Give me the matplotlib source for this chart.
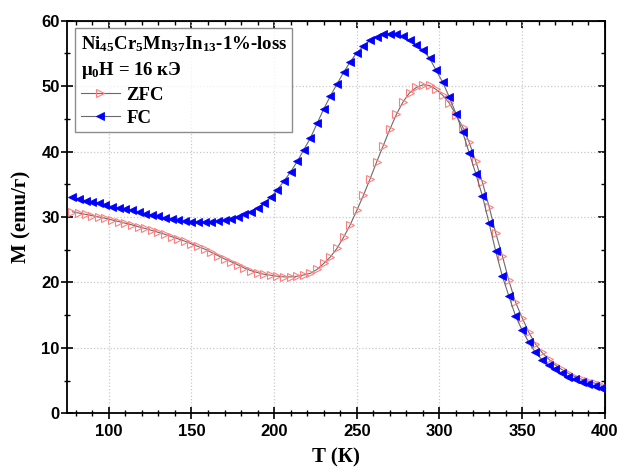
import matplotlib
matplotlib.use("Agg")
import matplotlib.pyplot as plt
from matplotlib.ticker import MultipleLocator
from matplotlib.font_manager import FontProperties

plt.rcParams['mathtext.fontset'] = 'custom'
plt.rcParams['mathtext.rm'] = 'Liberation Serif:bold'
plt.rcParams['mathtext.it'] = 'Liberation Serif:bold'
plt.rcParams['mathtext.bf'] = 'Liberation Serif:bold'

# ---- data ----
temperature = [78, 82, 86, 90, 94, 98, 102, 106, 110, 114, 118, 122, 126, 130, 134, 138,
               142, 146, 150, 154, 158, 162, 166, 170, 174, 178, 182, 186, 190, 194, 198,
               202, 206, 210, 214, 218, 222, 226, 230, 234, 238, 242, 246, 250, 254, 258,
               262, 266, 270, 274, 278, 282, 286, 290, 294, 298, 302, 306, 310, 314, 318,
               322, 326, 330, 334, 338, 342, 346, 350, 354, 358, 362, 366, 370, 374, 378,
               382, 386, 390, 394, 398]

m_zfc = [30.8, 30.6, 30.4, 30.2, 30.0, 29.8, 29.55, 29.3, 29.05, 28.8, 28.5, 28.25, 27.95,
         27.65, 27.35, 27.0, 26.65, 26.3, 25.9, 25.5, 25.1, 24.6, 24.1, 23.6, 23.15, 22.7,
         22.2, 21.8, 21.5, 21.25, 21.1, 20.95, 20.85, 20.85, 20.95, 21.15, 21.4, 22.0, 22.9,
         23.9, 25.2, 26.9, 28.8, 31.0, 33.3, 35.8, 38.4, 40.9, 43.4, 45.7, 47.6, 49.0, 49.8,
         50.2, 50.1, 49.5, 48.6, 47.4, 45.6, 43.8, 41.4, 38.5, 35.3, 31.6, 27.6, 24.1, 20.3,
         17.0, 14.6, 12.4, 10.6, 9.3, 8.3, 7.4, 6.7, 6.1, 5.6, 5.2, 4.9, 4.6, 4.3]

m_fc = [33.0, 32.8, 32.5, 32.3, 32.1, 31.9, 31.6, 31.4, 31.2, 31.0, 30.7, 30.5, 30.3, 30.1,
        29.9, 29.7, 29.5, 29.4, 29.3, 29.2, 29.2, 29.25, 29.35, 29.5, 29.7, 30.0, 30.4, 30.8,
        31.4, 32.1, 33.0, 34.2, 35.5, 36.9, 38.5, 40.3, 42.1, 44.3, 46.5, 48.5, 50.3, 52.1,
        53.7, 55.1, 56.1, 57.0, 57.5, 57.9, 58.0, 57.9, 57.6, 57.0, 56.3, 55.5, 54.3, 52.4,
        50.6, 48.3, 45.8, 43.0, 39.8, 36.6, 33.2, 29.1, 24.8, 21.0, 17.9, 14.9, 12.7, 10.9,
        9.3, 8.2, 7.4, 6.7, 6.1, 5.6, 5.2, 4.85, 4.5, 4.2, 3.9]

x_ticks = [100, 150, 200, 250, 300, 350, 400]
y_ticks = [0, 10, 20, 30, 40, 50, 60]

# ---- figure ----
fig = plt.figure(figsize=(6.19, 4.71), dpi=100)
ax = fig.add_axes([0.109, 0.1225, 0.868, 0.8335])

line_color = '#6a6a6a'
ax.plot(temperature, m_zfc, color=line_color, lw=0.8, marker='>', ms=5.5,
        mfc='none', mec='#ff7f7f', mew=0.8, label='ZFC', zorder=3)
ax.plot(temperature, m_fc, color=line_color, lw=0.8, marker='<', ms=5.5,
        mfc='#0000ff', mec='#0000ff', mew=0.6, label='FC', zorder=4)

ax.set_xlim(75, 400)
ax.set_ylim(0, 60)
ax.set_xticks(x_ticks)
ax.set_yticks(y_ticks)
ax.xaxis.set_minor_locator(MultipleLocator(10))
ax.yaxis.set_minor_locator(MultipleLocator(5))

ax.grid(True, which='major', color='#c8c8c8', linestyle=':', linewidth=0.9, zorder=0)
ax.set_axisbelow(True)

for s in ax.spines.values():
    s.set_linewidth(1.3)

tick_font = FontProperties(family='Liberation Sans', weight='bold', size=12)
ax.tick_params(which='major', direction='inout', length=8, width=1.2, pad=4)
ax.tick_params(which='minor', direction='inout', length=5, width=1.0)
ax.tick_params(axis='y', which='major', pad=1.5)
for lab in ax.get_xticklabels() + ax.get_yticklabels():
    lab.set_fontproperties(tick_font)

# top / right inward ticks
secx = ax.secondary_xaxis('top')
secx.set_xticks(x_ticks)
secx.xaxis.set_minor_locator(MultipleLocator(10))
secx.tick_params(which='major', direction='in', length=5, width=1.2, labeltop=False)
secx.tick_params(which='minor', direction='in', length=3, width=1.0)
secy = ax.secondary_yaxis('right')
secy.set_yticks(y_ticks)
secy.yaxis.set_minor_locator(MultipleLocator(5))
secy.tick_params(which='major', direction='in', length=5, width=1.2, labelright=False)
secy.tick_params(which='minor', direction='in', length=3, width=1.0)

label_font = FontProperties(family='Liberation Serif', weight='bold', size=15)
ax.set_xlabel('T (К)', fontproperties=label_font, labelpad=6)
ax.set_ylabel('M (emu/г)', fontproperties=label_font, labelpad=7)

leg_font = FontProperties(family='Liberation Serif', weight='bold', size=13.5)
title = 'Ni$_{45}$Cr$_{5}$Mn$_{37}$In$_{13}$-1%-loss\nμ$_{0}$H = 16 кЭ'
leg = ax.legend(loc='upper left', bbox_to_anchor=(0.014, 0.981), borderaxespad=0,
                title=title, title_fontproperties=leg_font, prop=leg_font,
                alignment='left', frameon=True, fancybox=False, edgecolor='#707070',
                handlelength=2.1, handletextpad=0.35, labelspacing=0.3,
                borderpad=0.3)
leg.get_title().set_linespacing(1.45)
leg.get_frame().set_linewidth(1.0)

fig.savefig('out.png', dpi=100)
